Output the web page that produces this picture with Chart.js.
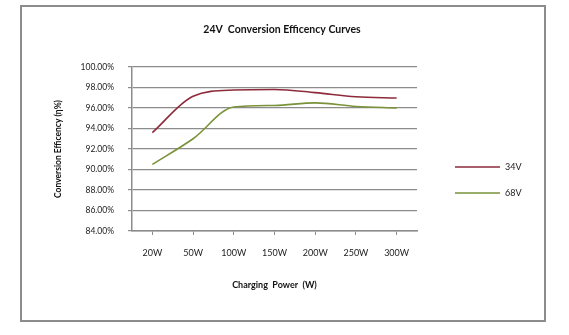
<!DOCTYPE html>
<html>
<head>
<meta charset="utf-8">
<script src="https://cdn.jsdelivr.net/npm/chart.js@4/dist/chart.umd.min.js"></script>
<style>
  body { margin: 0; background: #fff; }
  #frame {
    position: absolute; left: 20px; top: 5px;
    width: 522px; height: 313px;
    border: 2px solid #8c8c8c;
  }
  #wrap { position: absolute; left: 0; top: 0; width: 569px; height: 335px; }
</style>
</head>
<body>
<div id="frame"></div>
<div id="wrap"><canvas id="chart" width="569" height="335"></canvas></div>
<script>
// categories and series
const powers = ['20W', '50W', '100W', '150W', '200W', '250W', '300W'];
const eff34V = [93.6, 97.15, 97.75, 97.8, 97.5, 97.1, 96.97];
const eff68V = [90.5, 93.0, 96.1, 96.25, 96.5, 96.15, 96.0];
const seriesNames = ['34V', '68V'];
const chartTitle = '24V  Conversion Efficency Curves';

const FONT = 'Lato, "Open Sans", sans-serif';
const GRID = '#8c8c8c';

// title + legend drawn by hand so they sit where the original has them
const extras = {
    id: 'extras',
    afterDraw(chart) {
        const ctx = chart.ctx;
        ctx.save();
        ctx.fillStyle = '#111';
        ctx.font = 'bold 10.5px ' + FONT;
        ctx.textAlign = 'center';
        ctx.textBaseline = 'middle';
        ctx.fillText(chartTitle, 282, 30);

        ctx.font = '9px ' + FONT;
        ctx.textAlign = 'left';
        chart.data.datasets.forEach((ds, i) => {
            const y = 167 + i * 26;
            ctx.strokeStyle = ds.borderColor;
            ctx.lineWidth = 1.5;
            ctx.beginPath();
            ctx.moveTo(455, y);
            ctx.lineTo(500, y);
            ctx.stroke();
            ctx.fillStyle = '#222';
            ctx.fillText(ds.label, 505, y);
        });
        ctx.restore();
    }
};

new Chart(document.getElementById('chart'), {
    type: 'line',
    data: {
        labels: powers,
        datasets: [
            { label: seriesNames[0], data: eff34V, borderColor: '#8e2b3b', borderWidth: 1.6, pointRadius: 0, tension: 0.4, cubicInterpolationMode: 'monotone' },
            { label: seriesNames[1], data: eff68V, borderColor: '#7a9239', borderWidth: 1.6, pointRadius: 0, tension: 0.4, cubicInterpolationMode: 'monotone' }
        ]
    },
    options: {
        responsive: false,
        animation: false,
        layout: { padding: { top: 67, right: 152, left: 0, bottom: 0 } },
        plugins: { legend: { display: false }, title: { display: false }, tooltip: { enabled: false } },
        scales: {
            x: {
                offset: true,
                afterFit: s => { s.height = 104; },
                grid: { drawOnChartArea: false, color: GRID, tickLength: 4, tickColor: GRID },
                border: { color: GRID, width: 1.5 },
                ticks: { color: '#222', font: { family: FONT, size: 9 }, padding: 13, maxRotation: 0 },
                title: { display: true, text: 'Charging  Power  (W)', color: '#111', font: { family: FONT, size: 9, weight: 'bold' }, padding: { top: 0, bottom: 45 } }
            },
            y: {
                min: 84, max: 100,
                afterFit: s => { s.width = 132; },
                grid: { color: GRID, lineWidth: 1.2, tickLength: 4 },
                border: { color: GRID, width: 1.5 },
                ticks: { stepSize: 2, color: '#222', font: { family: FONT, size: 8.5 }, padding: 14, callback: v => v.toFixed(2) + '%' },
                title: { display: true, text: 'Conversion Efficency (η%)', color: '#111', font: { family: FONT, size: 8.5, weight: 'bold' }, padding: { top: 53, bottom: 0 } }
            }
        }
    },
    plugins: [extras]
});
</script>
</body>
</html>
